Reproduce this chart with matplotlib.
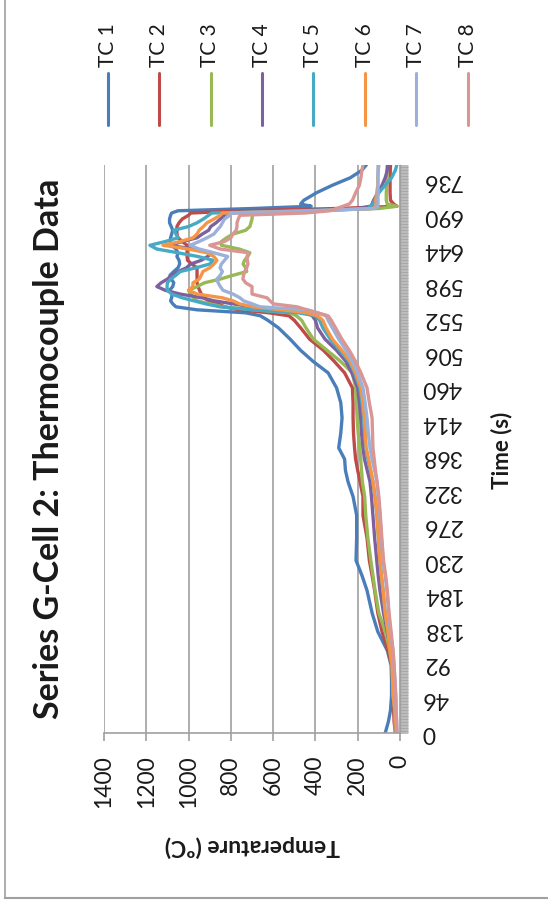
import matplotlib
matplotlib.use("Agg")
import matplotlib.pyplot as plt
from matplotlib.lines import Line2D
from matplotlib.ticker import MultipleLocator

plt.rcParams['font.family'] = ['Lato', 'DejaVu Sans']

# Tiempo (s) y temperaturas
time_s = [0, 15, 30, 50, 70, 90, 110, 135, 160, 190,
          210, 230, 260, 290, 315, 335, 350, 365, 380, 400,
          420, 440, 460, 480, 495, 510, 525, 540, 550, 556,
          560, 564, 568, 572, 576, 580, 585, 590, 595, 600,
          605, 610, 615, 620, 625, 630, 635, 640, 645, 650,
          655, 660, 665, 670, 675, 680, 685, 690, 693, 696,
          699, 702, 705, 710, 720, 730, 740, 750, 757]

tc1 = [70, 55, 45, 40, 40, 42, 60, 105, 132, 156,
       180, 208, 205, 205, 222, 246, 258, 262, 290, 280,
       274, 280, 300, 340, 410, 470, 520, 575, 625, 660,
       730, 960, 1060, 1075, 1085, 1080, 1078, 1090, 1075, 1070,
       1082, 1088, 1070, 1050, 1042, 1045, 1055, 1050, 1060, 1080,
       1088, 1085, 1080, 1075, 1082, 1090, 1090, 1085, 1080, 1050,
       700, 420, 470, 455, 395, 320, 235, 180, 160]
tc2 = [22, 28, 30, 33, 35, 38, 57, 85, 105, 120,
       132, 145, 156, 175, 175, 189, 200, 210, 215, 220,
       222, 222, 225, 262, 310, 362, 428, 470, 500, 525,
       620, 760, 830, 860, 905, 925, 940, 948, 955, 960,
       960, 960, 960, 960, 985, 1005, 1007, 1007, 1007, 1007,
       1030, 1050, 1055, 1055, 1055, 1045, 1030, 1000, 990, 750,
       300, 14, 30, 45, 47, 47, 47, 46, 45]
tc3 = [22, 24, 26, 28, 30, 33, 48, 70, 100, 118,
       128, 138, 152, 162, 167, 178, 182, 186, 190, 198,
       203, 206, 210, 225, 280, 345, 410, 445, 465, 490,
       520, 690, 837, 899, 960, 975, 990, 1000, 960, 925,
       850, 790, 725, 730, 742, 735, 720, 710, 760, 845,
       845, 820, 790, 730, 710, 705, 700, 698, 690, 450,
       100, 15, 60, 65, 65, 63, 62, 62, 60]
tc4 = [18, 20, 22, 24, 27, 35, 45, 60, 78, 95,
       103, 110, 120, 128, 135, 142, 155, 168, 175, 182,
       186, 192, 200, 228, 255, 300, 355, 390, 400, 415,
       440, 560, 700, 790, 880, 935, 1040, 1110, 1150, 1130,
       1100, 1080, 1050, 1010, 990, 940, 910, 890, 980, 1090,
       1030, 960, 935, 905, 895, 870, 850, 830, 820, 500,
       200, 140, 132, 125, 105, 85, 70, 60, 58]
tc5 = [18, 20, 24, 33, 35, 38, 48, 57, 70, 80,
       88, 95, 102, 109, 118, 128, 140, 152, 162, 168,
       172, 180, 190, 215, 240, 285, 330, 365, 380, 400,
       480, 700, 851, 920, 975, 1030, 1080, 1100, 1102, 1100,
       1085, 1060, 1040, 965, 900, 885, 955, 1050, 1150, 1183,
       1110, 1050, 1060, 1070, 1000, 960, 930, 905, 890, 450,
       150, 140, 128, 120, 100, 70, 40, 22, 15]
tc6 = [18, 20, 24, 33, 35, 38, 48, 57, 70, 80,
       88, 95, 102, 109, 118, 128, 138, 148, 160, 164,
       168, 175, 185, 210, 235, 275, 320, 350, 365, 390,
       440, 560, 695, 760, 790, 840, 960, 1000, 980, 979,
       950, 940, 932, 900, 880, 866, 880, 913, 1000, 1121,
       1040, 979, 960, 950, 930, 913, 880, 850, 840, 400,
       130, 110, 112, 115, 110, 105, 105, 103, 100]
tc7 = [14, 16, 18, 20, 24, 28, 33, 45, 53, 62,
       70, 80, 88, 95, 102, 109, 120, 132, 142, 150,
       156, 165, 175, 200, 225, 255, 290, 320, 340, 350,
       390, 440, 662, 700, 740, 757, 790, 837, 850, 860,
       866, 850, 840, 851, 845, 830, 815, 880, 950, 993,
       950, 913, 880, 866, 850, 840, 830, 805, 800, 400,
       120, 104, 104, 104, 104, 104, 104, 104, 104]
tc8 = [14, 16, 18, 20, 24, 28, 33, 42, 52, 60,
       68, 78, 86, 93, 100, 109, 116, 122, 128, 130,
       132, 145, 156, 185, 210, 240, 275, 305, 325, 340,
       390, 440, 487, 600, 615, 629, 700, 700, 700, 730,
       743, 740, 735, 725, 719, 722, 724, 715, 850, 900,
       830, 800, 790, 775, 771, 771, 765, 757, 450, 330,
       300, 270, 240, 225, 210, 192, 185, 180, 175]

series = [tc1, tc2, tc3, tc4, tc5, tc6, tc7, tc8]
names = ['TC 1', 'TC 2', 'TC 3', 'TC 4', 'TC 5', 'TC 6', 'TC 7', 'TC 8']
colors = ['#4A7EBB', '#BE4B48', '#98B954', '#7D60A0',
          '#46AAC5', '#F69544', '#9BB1D9', '#D99694']

time_ticks = list(range(0, 737, 46))
temp_ticks = list(range(0, 1401, 200))

W, H = 548, 906
fig = plt.figure(figsize=(W / 100, H / 100), dpi=100)
ax = fig.add_axes([104 / W, 173 / H, 296 / W, 568 / H])

# grafico girado: temperatura en horizontal, tiempo en vertical
for vals, col in zip(series, colors):
    ax.plot(vals, time_s, color=col, lw=2.4, solid_joinstyle='round')

ax.set_xlim(1400, 0)
ax.set_ylim(0, 757)
ax.set_xticks(temp_ticks)
ax.grid(axis='x', color='#a0a0a0', lw=1.2)
ax.set_axisbelow(True)

for s in ['top', 'left']:
    ax.spines[s].set_visible(False)
ax.spines['bottom'].set_color('#a0a0a0')
ax.spines['bottom'].set_linewidth(1.2)
ax.spines['right'].set_color('#a0a0a0')
ax.spines['right'].set_linewidth(1.0)

ax.yaxis.tick_right()
ax.set_yticks(time_ticks)
ax.yaxis.set_minor_locator(MultipleLocator(1))
ax.tick_params(axis='y', which='both', length=6, width=0.5, color='#a0a0a0', pad=10)
ax.tick_params(axis='y', which='major', labelsize=16.5, labelcolor='#1a1a1a')
for lbl in ax.get_yticklabels():
    lbl.set_rotation(180)
    lbl.set_va('center')

ax.tick_params(axis='x', length=6, width=1.2, color='#a0a0a0', labelsize=16.5,
               labelrotation=90, pad=10, labelcolor='#1a1a1a')

# titulos
fig.text(49 / W, 1 - 449 / H, 'Series G-Cell 2: Thermocouple Data', rotation=90,
         fontsize=24.5, fontweight='bold', ha='center', va='center', color='#1a1a1a')
fig.text(502 / W, 1 - 450 / H, 'Time (s)', rotation=90, fontsize=16,
         fontweight='bold', ha='center', va='center', color='#1a1a1a')
fig.text(252 / W, 1 - 846 / H, 'Temperature (ºC)', rotation=180, fontsize=16.5,
         fontweight='bold', ha='center', va='center', color='#1a1a1a')

# leyenda girada
for i, (name, col) in enumerate(zip(names, colors)):
    x = (107.7 + 51.4 * i) / W
    fig.add_artist(Line2D([x, x], [1 - 73 / H, 1 - 125 / H], color=col, lw=2.2,
                          solid_capstyle='round', transform=fig.transFigure))
    fig.text(x, 1 - 67 / H, name, rotation=90, fontsize=15, ha='center',
             va='bottom', color='#1a1a1a')

# borde del area del grafico
fig.add_artist(Line2D([5 / W, 5 / W], [1, 1 - 898 / H], color='#a0a0a0', lw=1.2,
                      transform=fig.transFigure))
fig.add_artist(Line2D([5 / W, 1], [1 - 898 / H, 1 - 898 / H], color='#a0a0a0', lw=1.5,
                      transform=fig.transFigure))

fig.savefig('out.png', dpi=100)
